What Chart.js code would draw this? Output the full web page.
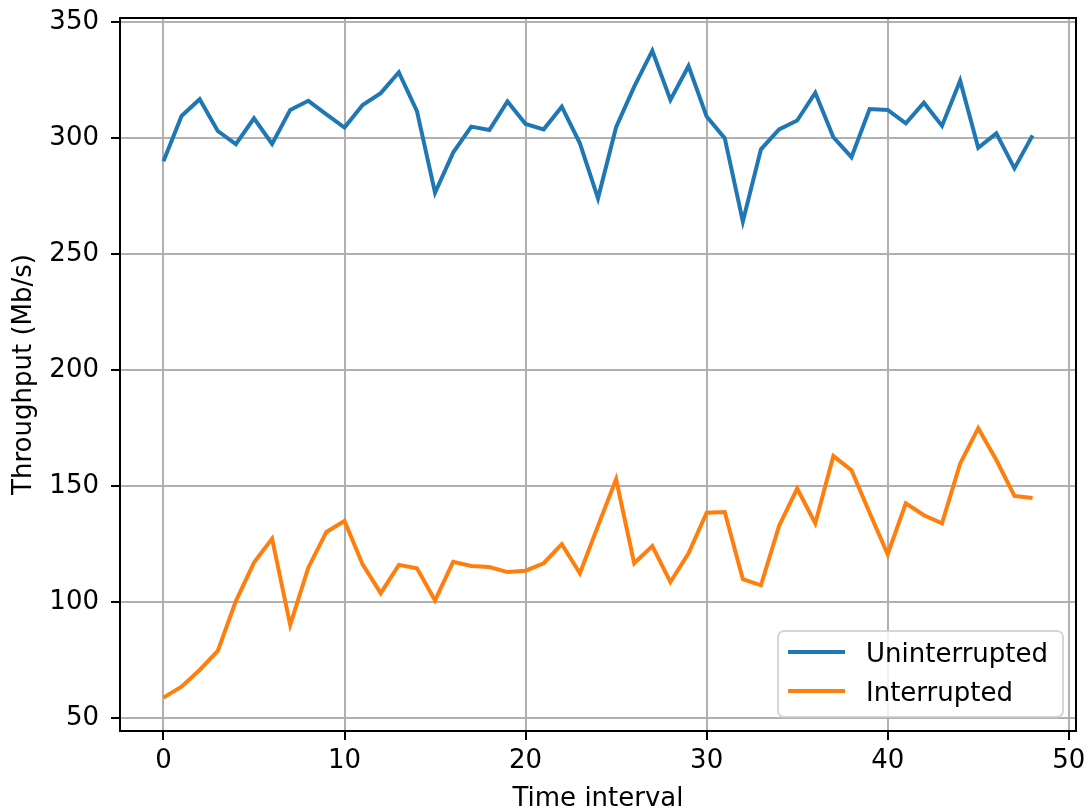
<!DOCTYPE html>
<html>
<head>
<meta charset="utf-8">
<title>Throughput</title>
<script src="https://cdn.jsdelivr.net/npm/chart.js@4.4.0/dist/chart.umd.min.js"></script>
<style>
  html, body { margin: 0; padding: 0; background: #fff; }
  #wrap { width: 1092px; height: 810px; }
</style>
</head>
<body>
<div id="wrap"><canvas id="throughput"></canvas></div>
<script>
"use strict";

// data
const timeInterval = [0, 1, 2, 3, 4, 5, 6, 7, 8, 9, 10, 11, 12, 13, 14, 15, 16, 17, 18, 19, 20, 21, 22, 23, 24,
  25, 26, 27, 28, 29, 30, 31, 32, 33, 34, 35, 36, 37, 38, 39, 40, 41, 42, 43, 44, 45, 46, 47, 48];

const uninterrupted = [290, 309.5, 316.7, 303, 297.3, 308.5, 297.4, 312.1, 316, 310.2,
  304.5, 314.2, 319.3, 328.3, 311.6, 276.4, 293.7, 304.9, 303.4, 315.7,
  306, 303.7, 313.5, 297.7, 274, 304.6, 322.1, 337.6, 316.4, 331,
  309.2, 299.9, 264, 295.1, 303.7, 307.5, 319.5, 300.3, 291.7, 312.5,
  312.1, 306.3, 315.2, 305.2, 324.7, 295.8, 302, 286.9, 301.1];

const interrupted = [58.8, 63.5, 70.7, 78.9, 100.4, 117, 127.3, 90.1, 114.8, 130.2,
  134.9, 116.2, 103.8, 116, 114.5, 100.7, 117.3, 115.5, 115.1, 112.9,
  113.5, 116.7, 124.9, 112.4, 132.8, 152.9, 116.7, 124.1, 108.6, 121,
  138.5, 138.8, 109.8, 107.2, 132.8, 148.9, 133.9, 162.9, 156.8, 138.5,
  120.6, 142.5, 137.4, 133.9, 159.6, 174.9, 161.2, 145.7, 144.8];

const xTicks = [0, 10, 20, 30, 40, 50];
const yTicks = [50, 100, 150, 200, 250, 300, 350];

// 🍎 look
const FONT = { family: '"DejaVu Sans", sans-serif', size: 26 };
const BLUE = '#1f77b4';
const ORANGE = '#ff7f0e';
const GRID = '#b0b0b0';

// 🍎 axes frame (all four spines)
const frame = {
  id: 'frame',
  afterDatasetsDraw(chart) {
    const { ctx, chartArea: a } = chart;
    ctx.save();
    ctx.strokeStyle = '#000';
    ctx.lineWidth = 2;
    ctx.strokeRect(a.left, a.top, a.right - a.left, a.bottom - a.top);
    ctx.restore();
  }
};

// 🍎 legend in the lower right corner of the plot
const legendBox = {
  id: 'legendBox',
  afterDraw(chart) {
    const { ctx, chartArea: a } = chart;
    const w = 285, h = 86;
    const x = a.right - 13 - w;
    const y = a.bottom - 14 - h;

    ctx.save();
    ctx.beginPath();
    ctx.roundRect(x, y, w, h, 6);
    ctx.fillStyle = 'rgba(255,255,255,0.8)';
    ctx.fill();
    ctx.strokeStyle = 'rgba(204,204,204,0.8)';
    ctx.lineWidth = 2;
    ctx.stroke();

    ctx.font = FONT.size + 'px ' + FONT.family;
    ctx.textBaseline = 'alphabetic';
    ctx.textAlign = 'left';

    chart.data.datasets.forEach((ds, i) => {
      const rowY = y + 21 + i * 39;
      ctx.beginPath();
      ctx.strokeStyle = ds.borderColor;
      ctx.lineWidth = ds.borderWidth;
      ctx.moveTo(x + 10, rowY);
      ctx.lineTo(x + 67, rowY);
      ctx.stroke();

      ctx.fillStyle = '#000';
      ctx.fillText(ds.label, x + 88, rowY + 10);
    });
    ctx.restore();
  }
};

let ctx = document.getElementById('throughput');

let throughputChart = new Chart(ctx, {
  type: 'line',
  data: {
    datasets: [
      {
        label: 'Uninterrupted',
        data: timeInterval.map((t, i) => ({ x: t, y: uninterrupted[i] })),
        borderColor: BLUE,
        backgroundColor: BLUE,
        borderWidth: 4,
        pointRadius: 0,
        tension: 0,
        fill: false
      },
      {
        label: 'Interrupted',
        data: timeInterval.map((t, i) => ({ x: t, y: interrupted[i] })),
        borderColor: ORANGE,
        backgroundColor: ORANGE,
        borderWidth: 4,
        pointRadius: 0,
        tension: 0,
        fill: false
      }
    ]
  },
  options: {
    responsive: true,
    maintainAspectRatio: false,
    animation: false,
    events: [],
    layout: { padding: { top: 18, right: 16, left: 0, bottom: 0 } },
    plugins: {
      legend: { display: false },
      tooltip: { enabled: false }
    },
    scales: {
      x: {
        type: 'linear',
        min: -2.4,
        max: 50.4,
        afterBuildTicks: (scale) => { scale.ticks = xTicks.map(v => ({ value: v })); },
        afterFit: (scale) => {
          scale.height = 79;
          scale.paddingLeft = 0;
          scale.paddingRight = 0;
        },
        border: { display: false },
        grid: {
          color: GRID,
          lineWidth: 2,
          tickColor: '#000',
          tickWidth: 2,
          tickLength: 9
        },
        ticks: {
          font: FONT,
          color: '#000',
          padding: 6,
          maxRotation: 0
        },
        title: {
          display: true,
          text: 'Time interval',
          font: FONT,
          color: '#000',
          padding: { top: 0, bottom: -5 }
        }
      },
      y: {
        min: 44.4,
        max: 351.7,
        afterBuildTicks: (scale) => { scale.ticks = yTicks.map(v => ({ value: v })); },
        afterFit: (scale) => {
          scale.width = 120;
          scale.paddingTop = 0;
          scale.paddingBottom = 0;
        },
        border: { display: false },
        grid: {
          color: GRID,
          lineWidth: 2,
          tickColor: '#000',
          tickWidth: 2,
          tickLength: 9
        },
        ticks: {
          font: FONT,
          color: '#000',
          padding: 12
        },
        title: {
          display: true,
          text: 'Throughput (Mb/s)',
          font: FONT,
          color: '#000',
          padding: { top: 9, bottom: 0 }
        }
      }
    }
  },
  plugins: [frame, legendBox]
});
</script>
</body>
</html>
